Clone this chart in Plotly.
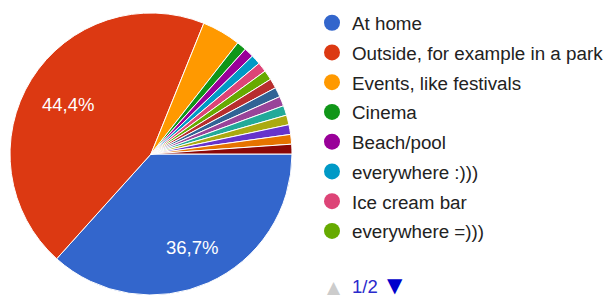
import math
import plotly.graph_objects as go

labels = ["At home", "Outside, for example in a park", "Events, like festivals", "Cinema",
          "Beach/pool", "everywhere :)))", "Ice cream bar", "everywhere =)))",
          "Option 9", "Option 10", "Option 11", "Option 12", "Option 13",
          "Option 14", "Option 15", "Option 16"]
values = [33, 40, 4, 1, 1, 1, 1, 1, 1, 1, 1, 1, 1, 1, 1, 1]
colors = ["#3366cc", "#dc3912", "#ff9900", "#109618", "#990099", "#0099c6", "#dd4477",
          "#66aa00", "#b82e2e", "#316395", "#994499", "#22aa99", "#aaaa11", "#6633cc",
          "#e67300", "#8b0707"]
legend_count = 8
page_text = "1/2"

FONT = "Arial"
W, H = 606, 296
CX, CY, R = 151, 154, 141   # pie centre and radius in pixels
LABEL_FRAC = 0.7

total = sum(values)
fig = go.Figure()
fig.add_trace(go.Pie(
    labels=labels, values=values, sort=False, direction="clockwise", rotation=90,
    marker=dict(colors=colors, line=dict(color="white", width=1)),
    textinfo="none", showlegend=False, hoverinfo="label+percent",
    domain=dict(x=[(CX - R) / W, (CX + R) / W], y=[(H - CY - R) / H, (H - CY + R) / H]),
))

# percentage labels on slices larger than 10 %, placed at the slice mid-angle
start = 0.0
for v in values:
    share = v / total
    mid = math.radians((start + share / 2) * 360)
    start += share
    if share > 0.1:
        px = CX + LABEL_FRAC * R * math.cos(mid)
        py = CY + LABEL_FRAC * R * math.sin(mid)
        fig.add_annotation(x=px / W, y=1 - py / H, xref="paper", yref="paper",
                           xanchor="center", yanchor="middle", yshift=-3, xshift=1,
                           text=f"{share * 100:.1f}%".replace(".", ","), showarrow=False,
                           font=dict(color="white", size=18.5, family=FONT))

for lab, col in zip(labels[:legend_count], colors[:legend_count]):
    fig.add_trace(go.Scatter(x=[None], y=[None], mode="markers", name=lab,
                             marker=dict(color=col, size=16, symbol="circle"),
                             legendgroup=lab, showlegend=True))

fig.add_annotation(x=334 / W, y=1 - 287 / H, xref="paper", yref="paper", text="▲",
                   xanchor="center", yanchor="middle",
                   showarrow=False, font=dict(color="#cccccc", size=17, family="DejaVu Sans"))
fig.add_annotation(x=365 / W, y=1 - 286 / H, xref="paper", yref="paper", text=page_text,
                   xanchor="center", yanchor="middle",
                   showarrow=False, font=dict(color="#2a2acc", size=18.5, family=FONT))
fig.add_annotation(x=395 / W, y=1 - 285 / H, xref="paper", yref="paper", text="▼",
                   xanchor="center", yanchor="middle",
                   showarrow=False, font=dict(color="#0000cc", size=20, family="DejaVu Sans"))

fig.update_layout(
    width=W, height=H, margin=dict(l=0, r=0, t=0, b=0, autoexpand=False),
    paper_bgcolor="white", plot_bgcolor="white",
    xaxis=dict(visible=False), yaxis=dict(visible=False),
    legend=dict(x=312 / W, y=1 - 4 / H, xanchor="left", yanchor="top",
                font=dict(size=18.8, color="#222222", family=FONT),
                tracegroupgap=2.3, bgcolor="rgba(0,0,0,0)"),
)
fig.write_html("out.html", config={"displayModeBar": False},
               post_script="document.body.style.margin='0';")
